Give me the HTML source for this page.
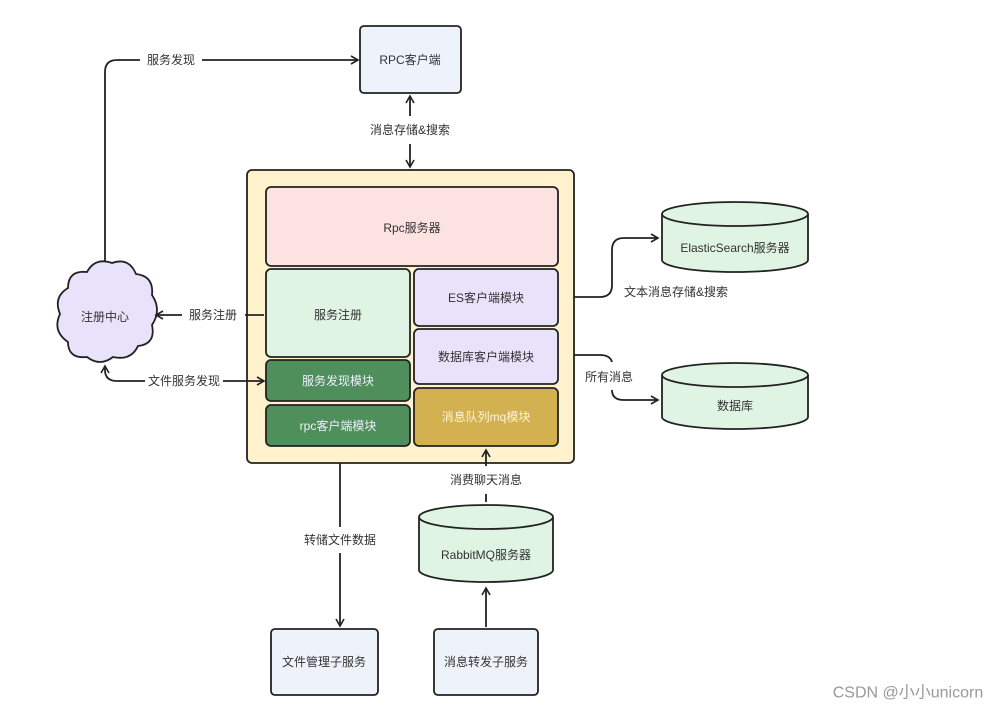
<!DOCTYPE html>
<html><head><meta charset="utf-8"><style>
body{margin:0;background:#fff;}
svg text{font-family:"Liberation Sans","Noto Sans CJK SC",sans-serif;font-size:12px;fill:#333;text-anchor:middle;dominant-baseline:central;}
</style></head><body>
<svg width="996" height="713" viewBox="0 0 996 713" xmlns="http://www.w3.org/2000/svg">
<defs>
<marker id="a" markerWidth="10" markerHeight="10" refX="8" refY="5" orient="auto" markerUnits="userSpaceOnUse">
<path d="M1,1 L8,5 L1,9" fill="none" stroke="#222" stroke-width="1.6"/>
</marker>
</defs>
<g stroke="#222" stroke-width="1.8">
<rect x="247" y="170" width="327" height="293" rx="5" fill="#fff2cc"/>
<rect x="266" y="187" width="292" height="79" rx="5" fill="#fde2e2"/>
<rect x="266" y="269" width="144" height="88" rx="5" fill="#e0f4e4"/>
<rect x="266" y="360" width="144" height="41" rx="5" fill="#4f8f5b"/>
<rect x="266" y="405" width="144" height="41" rx="5" fill="#4f8f5b"/>
<rect x="414" y="269" width="144" height="57" rx="5" fill="#e8e2fb"/>
<rect x="414" y="329" width="144" height="55" rx="5" fill="#e8e2fb"/>
<rect x="414" y="388" width="144" height="58" rx="5" fill="#d3b050"/>
<rect x="360" y="26" width="101" height="67" rx="4" fill="#eef3fb"/>
<rect x="271" y="629" width="107" height="66" rx="4" fill="#eef3fb"/>
<rect x="434" y="629" width="104" height="66" rx="4" fill="#eef3fb"/>
<path d="M662,214 V260 A73,12 0 0 0 808,260 V214" fill="#e0f4e4"/>
<ellipse cx="735" cy="214" rx="73" ry="12" fill="#e0f4e4"/>
<path d="M662,375 V417 A73,12 0 0 0 808,417 V375" fill="#e0f4e4"/>
<ellipse cx="735" cy="375" rx="73" ry="12" fill="#e0f4e4"/>
<path d="M419,517 V570 A67,12 0 0 0 553,570 V517" fill="#e0f4e4"/>
<ellipse cx="486" cy="517" rx="67" ry="12" fill="#e0f4e4"/>
<path d="M68,288 Q68,270 87,272 Q95,257 112,263 Q129,257 136,274 Q154,276 152,295 Q162,310 152,325 Q156,344 138,346 Q131,361 113,357 Q100,367 87,357 Q68,359 68,342 Q52,331 60,314 Q53,297 68,288 Z" fill="#e8e2fb"/>
<g fill="none">
<path d="M105,262 V72 Q105,60 117,60 H140"/>
<path d="M202,60 H358" marker-end="url(#a)"/>
<path d="M410,116 V96" marker-end="url(#a)"/>
<path d="M410,144 V167" marker-end="url(#a)"/>
<path d="M264,315 H245"/>
<path d="M182,315 H156" marker-end="url(#a)"/>
<path d="M223,381 H264" marker-end="url(#a)"/>
<path d="M145,381 H117 Q105,381 105,370 V366" marker-end="url(#a)"/>
<path d="M574,297 H600 Q612,297 612,285 V250 Q612,238 624,238 H658" marker-end="url(#a)"/>
<path d="M574,355 H600 Q610,355 612,362"/>
<path d="M612,390 Q612,400 624,400 H658" marker-end="url(#a)"/>
<path d="M340,463 V527"/>
<path d="M340,553 V626" marker-end="url(#a)"/>
<path d="M486,494 V502"/>
<path d="M486,466 V450" marker-end="url(#a)"/>
<path d="M486,627 V588" marker-end="url(#a)"/>
</g>
</g>
<text x="410" y="60">RPC客户端</text>
<text x="412" y="228">Rpc服务器</text>
<text x="338" y="315">服务注册</text>
<text x="338" y="381" style="fill:#eef">服务发现模块</text>
<text x="338" y="426" style="fill:#eef">rpc客户端模块</text>
<text x="486" y="298">ES客户端模块</text>
<text x="486" y="357">数据库客户端模块</text>
<text x="486" y="417" style="fill:#fdf4d8">消息队列mq模块</text>
<text x="735" y="248">ElasticSearch服务器</text>
<text x="735" y="406">数据库</text>
<text x="486" y="555">RabbitMQ服务器</text>
<text x="324" y="662">文件管理子服务</text>
<text x="486" y="662">消息转发子服务</text>
<text x="105" y="317">注册中心</text>
<text x="171" y="60">服务发现</text>
<text x="410" y="130">消息存储&amp;搜索</text>
<text x="213" y="315">服务注册</text>
<text x="184" y="381">文件服务发现</text>
<text x="676" y="292">文本消息存储&amp;搜索</text>
<text x="609" y="377">所有消息</text>
<text x="340" y="540">转储文件数据</text>
<text x="486" y="480">消费聊天消息</text>
<text x="908" y="693" style="fill:#999;font-size:16px">CSDN @小小unicorn</text>
</svg>
</body></html>
